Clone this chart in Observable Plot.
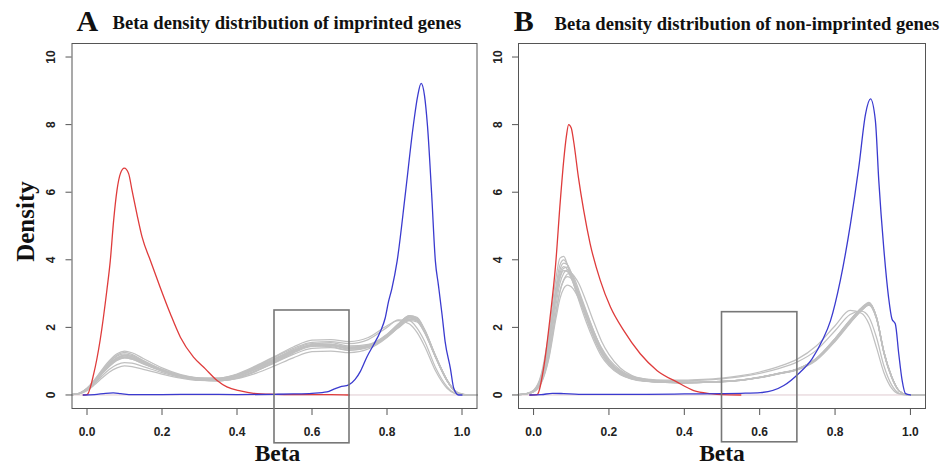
<!DOCTYPE html>
<html><head><meta charset="utf-8">
<script src="https://cdn.jsdelivr.net/npm/d3@7"></script>
<script src="https://cdn.jsdelivr.net/npm/@observablehq/plot@0.6"></script>
<style>
html,body{margin:0;padding:0;background:#fff;}
#chart{position:relative;width:950px;height:466px;overflow:hidden;background:#fff;}
#chart svg{position:absolute;top:0;}
</style></head><body><div id="chart"></div>
<script>
// ---------- tick labels & texts ----------
const xTicks = [0, 0.2, 0.4, 0.6, 0.8, 1.0];
const yTicks = [0, 2, 4, 6, 8, 10];
const letters = ["A", "B"];
const titles = ["Beta density distribution of imprinted genes", "Beta density distribution of non-imprinted genes"];
const xLabel = "Beta";
const yLabel = "Density";

// highlighted region (Beta 0.5–0.7), drawn down past the axis as in the figure
const boxA = {x1: 0.5, x2: 0.7, y1: -1.43, y2: 2.5};
const boxB = {x1: 0.5, x2: 0.7, y1: -1.40, y2: 2.45};

// ---------- Panel A: imprinted genes ----------
const redAx = [-0.01, 0, 0.018, 0.035, 0.053, 0.062, 0.071, 0.08, 0.089, 0.0995, 0.111, 0.12, 0.133, 0.147, 0.169, 0.195, 0.222, 0.249, 0.284, 0.315, 0.347, 0.373, 0.409, 0.444, 0.5, 0.55, 0.6, 0.65, 0.7];
const redAy = [0, 0.01, 0.63, 1.62, 3.1, 3.96, 5.16, 6.06, 6.55, 6.71, 6.55, 6.06, 5.36, 4.67, 3.98, 3.19, 2.41, 1.71, 1.12, 0.78, 0.43, 0.24, 0.12, 0.05, 0.02, 0.01, 0.01, 0.01, 0];
const blueAx = [-0.01, 0.02, 0.05, 0.07, 0.09, 0.12, 0.2, 0.3, 0.4, 0.5, 0.55, 0.6, 0.64, 0.66, 0.675, 0.698, 0.715, 0.729, 0.747, 0.764, 0.782, 0.795, 0.804, 0.813, 0.827, 0.849, 0.87, 0.882, 0.891, 0.9, 0.908, 0.919, 0.929, 0.937, 0.947, 0.955, 0.969, 0.978, 0.991, 1.0];
const blueAy = [0, 0.01, 0.05, 0.06, 0.04, 0.01, 0.01, 0.02, 0.01, 0.02, 0.03, 0.05, 0.09, 0.18, 0.24, 0.3, 0.46, 0.7, 1.14, 1.48, 1.87, 2.27, 2.76, 3.15, 3.96, 5.96, 7.96, 8.86, 9.22, 8.86, 7.96, 5.96, 3.96, 3.26, 2.36, 1.58, 0.79, 0.2, 0.0, 0];
const grayAx = [-0.04, -0.02, 0, 0.02, 0.04, 0.06, 0.08, 0.1, 0.12, 0.15, 0.2, 0.25, 0.3, 0.35, 0.4, 0.45, 0.5, 0.55, 0.6, 0.65, 0.7, 0.75, 0.8, 0.83, 0.86, 0.88, 0.9, 0.93, 0.96, 0.98, 1.0, 1.02, 1.04];
const grayA1  = [0.01,0.06,0.2,0.45,0.75,1.02,1.22,1.3,1.25,1.08,0.8,0.6,0.5,0.48,0.56,0.76,1.0,1.28,1.5,1.55,1.45,1.5,1.8,2.1,2.35,2.3,1.95,1.15,0.45,0.14,0.03,0,0];
const grayA2  = [0.01,0.05,0.19,0.42,0.7,0.96,1.15,1.22,1.17,1.01,0.76,0.58,0.49,0.47,0.55,0.76,1.02,1.3,1.48,1.5,1.4,1.46,1.76,2.06,2.3,2.25,1.9,1.12,0.43,0.13,0.02,0,0];
const grayA3  = [0.01,0.05,0.18,0.4,0.66,0.9,1.08,1.15,1.1,0.95,0.72,0.56,0.48,0.47,0.58,0.8,1.05,1.3,1.45,1.43,1.33,1.42,1.75,2.05,2.28,2.2,1.85,1.1,0.42,0.12,0.02,0,0];
const grayA4  = [0.01,0.04,0.16,0.37,0.62,0.85,1.02,1.1,1.06,0.92,0.7,0.54,0.46,0.45,0.55,0.78,1.06,1.34,1.52,1.5,1.38,1.44,1.78,2.1,2.34,2.28,1.92,1.14,0.44,0.13,0.02,0,0];
const grayA5  = [0.01,0.05,0.17,0.38,0.63,0.86,1.04,1.12,1.09,0.96,0.74,0.58,0.5,0.5,0.6,0.82,1.08,1.32,1.48,1.5,1.42,1.47,1.72,1.98,2.2,2.16,1.86,1.1,0.42,0.12,0.02,0,0];
const grayA6  = [0.01,0.04,0.13,0.3,0.5,0.68,0.8,0.86,0.84,0.76,0.62,0.5,0.43,0.42,0.5,0.7,0.95,1.2,1.38,1.4,1.32,1.4,1.72,2.02,2.25,2.2,1.88,1.12,0.43,0.12,0.02,0,0];
const grayA7  = [0.01,0.04,0.15,0.34,0.56,0.76,0.9,0.96,0.94,0.84,0.66,0.52,0.44,0.42,0.5,0.7,0.96,1.24,1.44,1.46,1.36,1.42,1.74,2.06,2.3,2.24,1.9,1.12,0.43,0.12,0.02,0,0];
const grayA8  = [0.01,0.05,0.18,0.4,0.66,0.9,1.06,1.12,1.08,0.94,0.72,0.56,0.48,0.48,0.6,0.84,1.12,1.38,1.56,1.58,1.52,1.64,2.0,2.22,2.2,1.98,1.6,0.8,0.25,0.06,0.01,0,0];
const grayA9  = [0.01,0.05,0.18,0.41,0.68,0.92,1.1,1.18,1.13,0.97,0.73,0.55,0.45,0.42,0.48,0.64,0.86,1.1,1.28,1.3,1.25,1.36,1.7,2.0,2.24,2.2,1.88,1.12,0.43,0.12,0.02,0,0];
const grayA10 = [0.01,0.05,0.2,0.44,0.72,0.98,1.18,1.26,1.2,1.02,0.74,0.55,0.46,0.44,0.52,0.72,0.98,1.26,1.46,1.48,1.38,1.44,1.74,2.04,2.3,2.26,1.92,1.14,0.44,0.13,0.02,0,0];
const grayA11 = [0.01,0.05,0.17,0.39,0.64,0.87,1.04,1.1,1.06,0.93,0.72,0.57,0.5,0.5,0.62,0.86,1.14,1.42,1.62,1.64,1.58,1.7,2.05,2.2,2.1,1.85,1.45,0.7,0.2,0.05,0.01,0,0];
const grayA12 = [0.01,0.05,0.18,0.41,0.67,0.92,1.1,1.18,1.14,0.99,0.75,0.58,0.49,0.47,0.56,0.77,1.03,1.28,1.46,1.47,1.38,1.45,1.78,2.08,2.33,2.27,1.92,1.13,0.44,0.13,0.02,0,0];

// ---------- Panel B: non-imprinted genes ----------
const redBx = [-0.01, 0.009, 0.027, 0.044, 0.058, 0.071, 0.08, 0.087, 0.093, 0.1, 0.106, 0.119, 0.133, 0.15, 0.177, 0.204, 0.239, 0.283, 0.328, 0.381, 0.425, 0.47, 0.5, 0.55];
const redBy = [0, 0.01, 0.82, 2.31, 3.79, 5.75, 6.94, 7.65, 8.0, 7.9, 7.53, 6.44, 5.46, 4.48, 3.39, 2.6, 1.91, 1.22, 0.72, 0.38, 0.13, 0.04, 0.01, 0];
const blueBx = [-0.01, 0.02, 0.05, 0.08, 0.12, 0.2, 0.3, 0.4, 0.5, 0.55, 0.602, 0.664, 0.703, 0.739, 0.766, 0.788, 0.814, 0.841, 0.863, 0.881, 0.894, 0.907, 0.916, 0.929, 0.942, 0.951, 0.96, 0.969, 0.978, 0.987, 1.0];
const blueBy = [0, 0.01, 0.05, 0.04, 0.02, 0.02, 0.02, 0.03, 0.04, 0.05, 0.07, 0.28, 0.63, 1.07, 1.61, 2.2, 3.39, 5.07, 6.74, 8.32, 8.76, 8.12, 6.35, 4.38, 2.89, 2.25, 2.1, 1.22, 0.43, 0.04, 0];
const grayBx = [-0.04, -0.02, 0, 0.02, 0.04, 0.06, 0.07, 0.08, 0.09, 0.1, 0.11, 0.12, 0.14, 0.16, 0.18, 0.2, 0.23, 0.26, 0.3, 0.35, 0.4, 0.45, 0.5, 0.55, 0.6, 0.65, 0.7, 0.75, 0.8, 0.84, 0.87, 0.89, 0.91, 0.93, 0.95, 0.97, 0.99, 1.01, 1.04];
const grayB1  = [0.01,0.04,0.14,0.6,1.8,3.5,4.05,4.1,3.85,3.5,3.15,2.8,2.15,1.6,1.15,0.86,0.6,0.47,0.4,0.37,0.36,0.37,0.4,0.44,0.52,0.63,0.76,1.05,1.62,2.15,2.5,2.66,2.25,1.22,0.52,0.12,0.01,0,0];
const grayB2  = [0.01,0.04,0.13,0.55,1.65,3.25,3.85,4.0,3.85,3.55,3.2,2.87,2.25,1.68,1.22,0.9,0.62,0.48,0.41,0.37,0.36,0.37,0.4,0.44,0.53,0.64,0.77,1.07,1.65,2.2,2.55,2.7,2.28,1.24,0.54,0.12,0.01,0,0];
const grayB3  = [0.01,0.03,0.11,0.45,1.4,2.95,3.5,3.75,3.78,3.6,3.32,3.0,2.38,1.78,1.28,0.94,0.64,0.49,0.41,0.37,0.36,0.37,0.39,0.43,0.52,0.64,0.77,1.08,1.67,2.22,2.57,2.72,2.28,1.25,0.54,0.12,0.01,0,0];
const grayB4  = [0.01,0.03,0.1,0.4,1.25,2.7,3.3,3.6,3.7,3.62,3.4,3.1,2.48,1.88,1.36,1.0,0.67,0.5,0.42,0.38,0.36,0.37,0.39,0.43,0.51,0.63,0.76,1.06,1.66,2.2,2.56,2.72,2.3,1.26,0.55,0.12,0.01,0,0];
const grayB5  = [0.01,0.03,0.1,0.38,1.15,2.5,3.08,3.4,3.5,3.45,3.28,3.02,2.45,1.88,1.38,1.02,0.7,0.52,0.43,0.39,0.37,0.38,0.4,0.44,0.52,0.63,0.76,1.06,1.64,2.18,2.54,2.7,2.3,1.26,0.55,0.12,0.01,0,0];
const grayB6  = [0.01,0.03,0.09,0.34,1.05,2.3,2.85,3.15,3.25,3.2,3.06,2.85,2.35,1.85,1.4,1.06,0.74,0.55,0.45,0.4,0.38,0.38,0.4,0.44,0.52,0.63,0.75,1.04,1.6,2.14,2.5,2.66,2.26,1.24,0.54,0.12,0.01,0,0];
const grayB7  = [0.01,0.03,0.1,0.36,1.1,2.45,3.05,3.4,3.58,3.6,3.48,3.3,2.75,2.15,1.6,1.2,0.8,0.58,0.46,0.4,0.38,0.38,0.4,0.44,0.51,0.62,0.74,1.02,1.58,2.12,2.5,2.68,2.28,1.25,0.54,0.12,0.01,0,0];
const grayB8  = [0.01,0.03,0.11,0.45,1.38,2.9,3.45,3.68,3.65,3.45,3.18,2.88,2.3,1.75,1.3,0.98,0.7,0.55,0.47,0.44,0.44,0.46,0.5,0.57,0.68,0.84,1.06,1.45,2.05,2.5,2.42,2.1,1.4,0.65,0.2,0.03,0,0,0];
const grayB9  = [0.01,0.03,0.12,0.5,1.5,3.05,3.6,3.8,3.72,3.5,3.2,2.9,2.3,1.74,1.28,0.96,0.68,0.53,0.45,0.42,0.42,0.44,0.48,0.54,0.64,0.78,0.98,1.32,1.9,2.38,2.48,2.3,1.7,0.85,0.3,0.05,0,0,0];
const grayB10 = [0.01,0.04,0.12,0.5,1.55,3.12,3.7,3.9,3.85,3.62,3.3,2.96,2.32,1.72,1.24,0.92,0.63,0.48,0.41,0.37,0.36,0.37,0.39,0.43,0.52,0.64,0.77,1.08,1.67,2.22,2.58,2.74,2.3,1.26,0.55,0.12,0.01,0,0];

// ---------- build tables ----------
const pairs = (xs, ys) => xs.map((x, i) => ({x, y: ys[i]}));
const grayRows = (xs, series) => series.flatMap((ys, k) => ys.map((y, i) => ({x: xs[i], y, id: k})));

const panels = [
  {
    left: 0, width: 480, marginLeft: 71.5, marginRight: 3.5,
    red: pairs(redAx, redAy), blue: pairs(blueAx, blueAy),
    gray: grayRows(grayAx, [grayA1, grayA2, grayA3, grayA4, grayA5, grayA6, grayA7, grayA8, grayA9, grayA10, grayA11, grayA12]),
    box: boxA, letter: letters[0], title: titles[0],
    letterDx: 4.5, titleDx: 40.5, titleDy: -14.5, xLabelDx: 3, yLabel: true
  },
  {
    left: 480, width: 470, marginLeft: 38, marginRight: 25,
    red: pairs(redBx, redBy), blue: pairs(blueBx, blueBy),
    gray: grayRows(grayBx, [grayB1, grayB2, grayB3, grayB4, grayB5, grayB6, grayB7, grayB8, grayB9, grayB10]),
    box: boxB, letter: letters[1], title: titles[1],
    letterDx: -4.7, titleDx: 36, titleDy: -14, xLabelDx: 0, yLabel: false
  }
];

const serif = "'Liberation Serif', 'Times New Roman', serif";
const sans = "'Liberation Sans', Arial, sans-serif";

for (const p of panels) {
  const marks = [
    Plot.ruleY([0], {stroke: "#dfcbd0", strokeWidth: 1}),
    Plot.line(p.gray, {x: "x", y: "y", z: "id", stroke: "#c0c0c0", strokeWidth: 1.25, curve: "monotone-x"}),
    Plot.line(p.red, {x: "x", y: "y", stroke: "#df3b3b", strokeWidth: 1.3, curve: "monotone-x"}),
    Plot.line(p.blue, {x: "x", y: "y", stroke: "#3a3acf", strokeWidth: 1.3, curve: "monotone-x"}),
    Plot.frame({stroke: "#555", strokeWidth: 1}),
    Plot.axisX({ticks: xTicks, tickFormat: d3.format(".1f"), tickSize: 7, tickPadding: 12, stroke: "#555", fill: "#222",
      fontSize: 12, fontWeight: "bold", fontFamily: sans, label: null}),
    Plot.axisY({ticks: yTicks, tickFormat: d3.format("d"), tickSize: 6, tickPadding: 11, tickRotate: -90, stroke: "#555", fill: "#222",
      fontSize: 12, fontWeight: "bold", fontFamily: sans, label: null}),
    Plot.rect([p.box], {x1: "x1", x2: "x2", y1: "y1", y2: "y2", fill: "none", stroke: "#777", strokeWidth: 1.6}),
    Plot.text([p.letter], {text: d => d, frameAnchor: "top-left", textAnchor: "start", lineAnchor: "bottom",
      dx: p.letterDx, dy: -13, fontSize: 30, fontWeight: "bold", fontFamily: serif, fill: "#111"}),
    Plot.text([p.title], {text: d => d, frameAnchor: "top-left", textAnchor: "start", lineAnchor: "bottom",
      dx: p.titleDx, dy: p.titleDy, fontSize: 18.6, fontWeight: "bold", fontFamily: serif, fill: "#111"}),
    Plot.text([xLabel], {text: d => d, frameAnchor: "bottom", textAnchor: "middle", lineAnchor: "bottom",
      dx: p.xLabelDx, dy: 52.5, fontSize: 23.5, fontWeight: "bold", fontFamily: serif, fill: "#111"})
  ];
  if (p.yLabel) {
    marks.push(Plot.text([yLabel], {text: d => d, frameAnchor: "left", textAnchor: "middle", lineAnchor: "bottom",
      rotate: -90, dx: -38.5, dy: -4.5, fontSize: 25, fontWeight: "bold", fontFamily: serif, fill: "#111"}));
  }
  const svg = Plot.plot({
    width: p.width, height: 466,
    marginLeft: p.marginLeft, marginRight: p.marginRight, marginTop: 43, marginBottom: 58,
    x: {domain: [-0.04, 1.04], label: null},
    y: {domain: [-0.4, 10.4], label: null},
    style: {background: "transparent", overflow: "visible"},
    marks
  });
  svg.style.left = p.left + "px";
  document.getElementById("chart").appendChild(svg);
}
</script></body></html>
